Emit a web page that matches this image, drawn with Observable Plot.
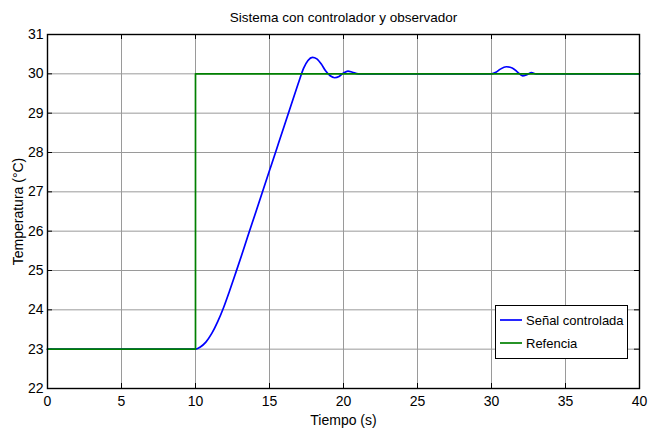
<!DOCTYPE html>
<html><head><meta charset="utf-8">
<script src="https://cdn.jsdelivr.net/npm/d3@7"></script>
<script src="https://cdn.jsdelivr.net/npm/@observablehq/plot@0.6"></script>
<style>
body{margin:0;background:#fff}
#chart svg{font-family:"Liberation Sans",Arial,sans-serif;}
</style>
</head><body><div id="chart"></div>
<script>
const title = "Sistema con controlador y observador";
const xLabel = "Tiempo (s)";
const yLabel = "Temperatura (°C)";
const xTicks = [0, 5, 10, 15, 20, 25, 30, 35, 40];
const yTicks = [22, 23, 24, 25, 26, 27, 28, 29, 30, 31];
const seriesNames = ["Señal controlada", "Refencia"];
const seriesColors = ["#0000ff", "#008000"];

const signalT = [0, 10, 10.3, 10.7, 11.1, 11.5, 11.9, 12.3, 12.7, 13.1, 13.5, 14, 14.5, 15, 15.5, 16, 16.5, 17, 17.3, 17.6, 17.9, 18.2, 18.5, 18.8, 19.1, 19.4, 19.7, 20.0, 20.3, 20.6, 21, 30, 30.3, 30.6, 31.0, 31.4, 31.8, 32.1, 32.4, 32.7, 33, 40];
const signalV = [23, 23, 23.05, 23.18, 23.4, 23.7, 24.06, 24.48, 24.92, 25.37, 25.83, 26.4, 26.97, 27.54, 28.11, 28.68, 29.25, 29.82, 30.14, 30.34, 30.42, 30.38, 30.25, 30.07, 29.95, 29.9, 29.93, 30.02, 30.07, 30.04, 30, 30, 30.04, 30.12, 30.18, 30.15, 30.03, 29.95, 29.98, 30.03, 30, 30];
const refT = [0, 10, 10, 40];
const refV = [23, 23, 30, 30];

const signal = signalT.map((t, i) => ({t, v: signalV[i]}));
const ref = refT.map((t, i) => ({t, v: refV[i]}));

const W = 658, H = 434, mL = 47, mR = 19, mT = 34, mB = 46;
const pw = W - mL - mR, ph = H - mT - mB;

const plot = Plot.plot({
  width: W, height: H,
  marginLeft: mL, marginRight: mR, marginTop: mT, marginBottom: mB,
  x: {domain: [0, 40]},
  y: {domain: [22, 31]},
  style: {background: "#fff", color: "#000"},
  marks: [
    Plot.gridX(xTicks, {stroke: "#9a9a9a", strokeOpacity: 1, strokeWidth: 1}),
    Plot.gridY(yTicks, {stroke: "#9a9a9a", strokeOpacity: 1, strokeWidth: 1}),
    Plot.tickX(xTicks, {x: d => d, insetTop: ph - 5, stroke: "#000"}),
    Plot.tickX(xTicks, {x: d => d, insetBottom: ph - 5, stroke: "#000"}),
    Plot.tickY(yTicks, {y: d => d, insetRight: pw - 5, stroke: "#000"}),
    Plot.tickY(yTicks, {y: d => d, insetLeft: pw - 5, stroke: "#000"}),
    Plot.line(signal, {x: "t", y: "v", stroke: seriesColors[0], strokeWidth: 1.7, curve: "monotone-x"}),
    Plot.line(ref, {x: "t", y: "v", stroke: seriesColors[1], strokeWidth: 1.7}),
    Plot.frame({stroke: "#000", strokeWidth: 1.4}),
    Plot.axisX({ticks: xTicks, tickSize: 0, tickPadding: 8, fontSize: 14, label: null}),
    Plot.axisY({ticks: yTicks, tickSize: 0, tickPadding: 4, fontSize: 14, label: null}),
    Plot.text([title], {frameAnchor: "top", dy: -22, fontSize: 13.5, fill: "#000"}),
    Plot.text([xLabel], {frameAnchor: "bottom", dy: 36, fontSize: 14, fill: "#000"}),
    Plot.text([yLabel], {frameAnchor: "left", textAnchor: "middle", dx: -29, rotate: -90, fontSize: 14, fill: "#000"})
  ]
});
document.getElementById("chart").appendChild(plot);

// Legend
const svg = d3.select(plot);
const lg = svg.append("g").attr("text-anchor", "start");
lg.append("rect").attr("x", 495.5).attr("y", 305.5).attr("width", 132).attr("height", 53)
  .attr("fill", "#fff").attr("stroke", "#000").attr("stroke-width", 1);
seriesNames.forEach((name, i) => {
  const y = 320 + i * 23;
  lg.append("line").attr("x1", 500).attr("x2", 522).attr("y1", y).attr("y2", y)
    .attr("stroke", seriesColors[i]).attr("stroke-width", 1.7);
  lg.append("text").attr("x", 526).attr("y", y).attr("dy", "0.35em")
    .attr("text-anchor", "start").attr("font-size", 13).attr("fill", "#000").text(name);
});
</script>
</body></html>
